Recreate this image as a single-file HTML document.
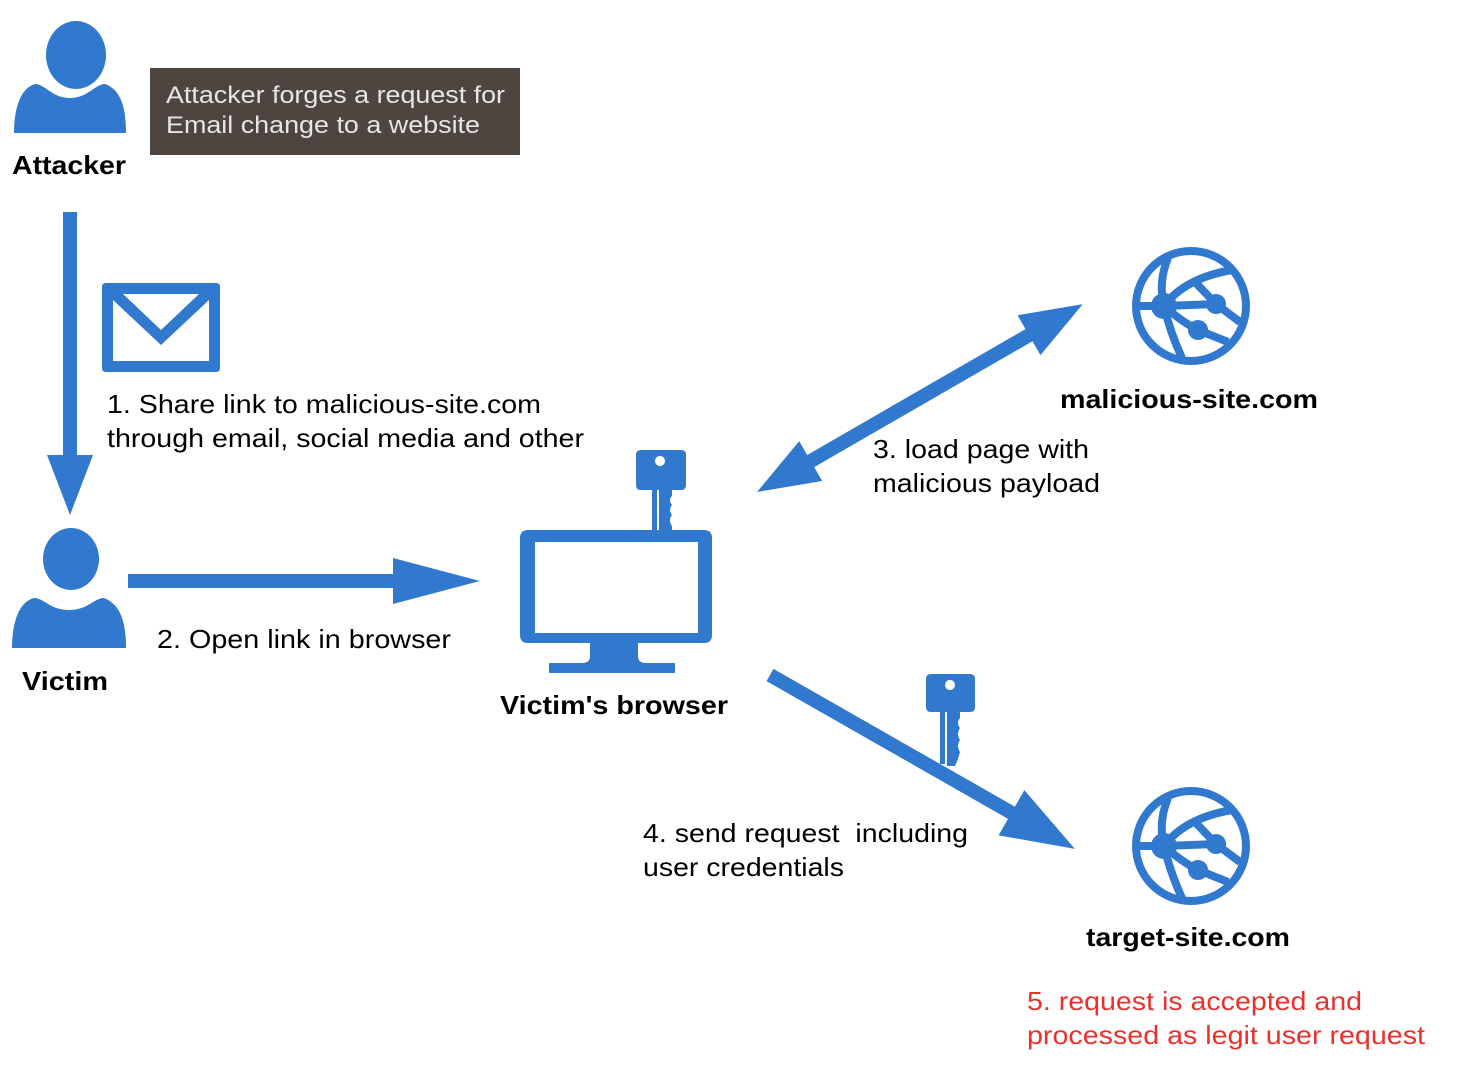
<!DOCTYPE html>
<html><head><meta charset="utf-8"><style>
html,body{margin:0;padding:0;background:#fff;}
svg{display:block;font-family:"Liberation Sans",Arial,sans-serif;}
</style></head><body>
<svg width="1460" height="1066" viewBox="0 0 1460 1066" xmlns="http://www.w3.org/2000/svg">
<g fill="#3179cf">
<ellipse cx="76" cy="55" rx="30" ry="34"/>
<path d="M14 133 L126 133 C126 110 122 90 105 84 C95 84 88 98 70 98 C52 98 45 84 35 84 C20 88 14 110 14 133Z"/>
<ellipse cx="71" cy="559" rx="28" ry="31"/>
<path d="M12 648 L126 648 C126 625 122 605 104 598 C94 598 88 610 69 610 C50 610 44 598 34 598 C18 602 12 625 12 648Z"/>
<rect x="63" y="212" width="14" height="245"/>
<polygon points="47,455 93,455 70,515"/>
<rect x="128" y="574" width="270" height="14"/>
<polygon points="393,558 393,604 480,581"/>
<path fill-rule="evenodd" d="M528 530 H704 Q712 530 712 538 V635 Q712 643 704 643 H528 Q520 643 520 635 V538 Q520 530 528 530Z M535 542 V633 H698 V542Z"/>
<path d="M590 643 H638 V656 Q638 663 646 663 H675 V673 H549 V663 H582 Q590 663 590 656Z"/>
<path fill-rule="evenodd" d="M641 450 H681 Q686 450 686 455 V485 Q686 490 681 490 H641 Q636 490 636 485 V455 Q636 450 641 450Z M660 456 A5 5 0 1 0 660.01 456Z"/>
<rect x="652" y="490" width="5" height="42"/>
<path d="M659 490 H672 V496 Q668 500 672 505 Q668 510 672 515 Q668 520 672 526 V532 H659Z"/>
<path fill-rule="evenodd" d="M931 674 H970 Q975 674 975 679 V707 Q975 712 970 712 H931 Q926 712 926 707 V679 Q926 674 931 674Z M950 680 A5 5 0 1 0 950.01 680Z"/>
<rect x="940" y="712" width="5" height="52"/>
<path d="M947 712 H960 V718 Q956 723 960 728 Q956 734 960 740 Q956 746 960 752 Q958 760 955 766 H947Z"/>
<g transform="translate(757,492) rotate(-29.97)">
<rect x="50" y="-7" width="280" height="14"/>
<polygon points="0,0 62,-23 62,23"/>
<polygon points="376,0 314,-23 314,23"/>
</g>
<g transform="translate(770,675) rotate(29.7)">
<rect x="0" y="-7" width="290" height="14"/>
<polygon points="351,0 278,-26 278,26"/>
</g>
<path fill-rule="evenodd" d="M106 283 H216 Q220 283 220 287 V368 Q220 372 216 372 H106 Q102 372 102 368 V287 Q102 283 106 283Z M113 294 V361 H209 V294Z"/>
<polygon points="113,294 123,294 161,330 199,294 209,294 209,300 161,345 113,300"/>
</g>
<g id="globe">
<g fill="none" stroke="#3179cf" stroke-width="8">
<circle cx="1191" cy="306" r="55"/>
<path d="M1168 258 Q1158 282 1164 306 Q1170 332 1182 358"/>
<path d="M1164 306 Q1185 278 1232 270"/>
<path d="M1138 306 L1164 306 Q1182 322 1198 330 L1228 342"/>
<path d="M1164 306 L1216 304 L1240 322"/>
<path d="M1195 282 L1216 304"/>
</g>
<g fill="#3179cf">
<circle cx="1164" cy="306" r="13"/><circle cx="1216" cy="304" r="10"/><circle cx="1198" cy="330" r="10"/>
</g>
</g>
<use href="#globe" transform="translate(0,540)"/>
<rect x="150" y="68" width="370" height="87" fill="#4e4440"/>
<g fill="#e6e6e6" font-size="24" lengthAdjust="spacingAndGlyphs">
<text x="166" y="103" textLength="339" lengthAdjust="spacingAndGlyphs">Attacker forges a request for</text>
<text x="166" y="133" textLength="314" lengthAdjust="spacingAndGlyphs">Email change to a website</text>
</g>
<g font-weight="bold" font-size="26" fill="#000">
<text x="12" y="174" textLength="114" lengthAdjust="spacingAndGlyphs">Attacker</text>
<text x="22" y="690" textLength="86" lengthAdjust="spacingAndGlyphs">Victim</text>
<text x="500" y="714" textLength="228" lengthAdjust="spacingAndGlyphs">Victim's browser</text>
<text x="1060" y="408" textLength="258" lengthAdjust="spacingAndGlyphs">malicious-site.com</text>
<text x="1086" y="946" textLength="204" lengthAdjust="spacingAndGlyphs">target-site.com</text>
</g>
<g font-size="26" fill="#000">
<text x="107" y="413" textLength="434" lengthAdjust="spacingAndGlyphs">1. Share link to malicious-site.com</text>
<text x="107" y="447" textLength="477" lengthAdjust="spacingAndGlyphs">through email, social media and other</text>
<text x="157" y="648" textLength="294" lengthAdjust="spacingAndGlyphs">2. Open link in browser</text>
<text x="873" y="458" textLength="216" lengthAdjust="spacingAndGlyphs">3. load page with</text>
<text x="873" y="492" textLength="227" lengthAdjust="spacingAndGlyphs">malicious payload</text>
<text x="643" y="842" xml:space="preserve" textLength="325" lengthAdjust="spacingAndGlyphs">4. send request  including</text>
<text x="643" y="876" textLength="201" lengthAdjust="spacingAndGlyphs">user credentials</text>
</g>
<g font-size="26" fill="#e8322b">
<text x="1027" y="1010" textLength="335" lengthAdjust="spacingAndGlyphs">5. request is accepted and</text>
<text x="1027" y="1044" textLength="398" lengthAdjust="spacingAndGlyphs">processed as legit user request</text>
</g>
</svg>
</body></html>
